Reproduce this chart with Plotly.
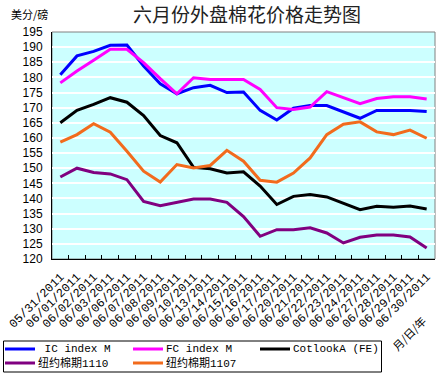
import plotly.graph_objects as go

dates = ["05/31/2011", "06/01/2011", "06/02/2011", "06/03/2011", "06/06/2011",
         "06/07/2011", "06/08/2011", "06/09/2011", "06/10/2011", "06/13/2011",
         "06/14/2011", "06/15/2011", "06/16/2011", "06/17/2011", "06/20/2011",
         "06/21/2011", "06/22/2011", "06/23/2011", "06/24/2011", "06/27/2011",
         "06/28/2011", "06/29/2011", "06/30/2011"]

ic_index_m = [180.9, 187.1, 188.6, 190.6, 190.7, 183.8, 177.9, 174.6, 176.6, 177.4,
              175.0, 175.2, 169.1, 165.9, 169.8, 170.7, 170.7, 168.5, 166.5, 169.1,
              169.1, 169.1, 168.7]
fc_index_m = [178.2, 182.1, 185.7, 189.3, 189.3, 184.9, 179.6, 174.6, 179.9, 179.3,
              179.3, 179.3, 176.0, 170.0, 169.4, 170.2, 175.3, 173.3, 171.3, 173.0,
              173.6, 173.6, 172.9]
cotlook_a = [165.0, 169.1, 171.1, 173.3, 171.8, 167.4, 160.8, 158.4, 150.3, 149.8,
             148.4, 148.8, 144.1, 138.0, 140.7, 141.3, 140.5, 138.5, 136.3, 137.4,
             137.1, 137.5, 136.5]
nybot_1110 = [147.1, 150.0, 148.6, 148.1, 146.2, 139.0, 137.6, 138.7, 139.8, 139.8,
              138.7, 134.0, 127.5, 129.7, 129.7, 130.3, 128.6, 125.3, 127.2, 127.9,
              127.9, 127.3, 123.6]
nybot_1107 = [158.6, 161.1, 164.7, 161.9, 155.6, 149.0, 145.4, 151.2, 150.1, 150.9,
              155.9, 152.3, 146.0, 145.4, 148.4, 153.4, 161.1, 164.5, 165.3, 162.0,
              161.1, 162.6, 159.9]

y_ticks = [120, 125, 130, 135, 140, 145, 150, 155, 160, 165, 170, 175, 180, 185, 190, 195]

series_names = ["IC index M", "FC index M", "CotlookA (FE)", "纽约棉期1110", "纽约棉期1107"]
series_values = [ic_index_m, fc_index_m, cotlook_a, nybot_1110, nybot_1107]
series_colors = ["#0000FF", "#FF00FF", "#000000", "#800080", "#F26B1D"]

W, H = 441, 375
L, R, T, B = 52, 6, 32, 116
PW, PH = W - L - R, H - T - B


def px(x):
    return (x - L) / PW


def py(y):
    return (H - B - y) / PH


fig = go.Figure()
for name, vals, col in zip(series_names, series_values, series_colors):
    fig.add_trace(go.Scatter(x=dates, y=vals, name=name, mode="lines",
                             line=dict(color=col, width=3)))

# Excel-style legend box (3 columns, 2 rows)
legend_slots = [(5, 349), (133, 349), (260, 349), (5, 363), (133, 363)]
shapes = [dict(type="rect", xref="paper", yref="paper", x0=0, x1=1, y0=0, y1=1,
               line=dict(color="#808080", width=1), layer="below"),
          dict(type="rect", xref="paper", yref="paper", x0=px(3.5), x1=px(381.5),
               y0=py(341), y1=py(372), line=dict(color="black", width=1),
               fillcolor="white")]
annotations = [
    dict(text="美分/磅", xref="paper", yref="paper", x=px(9), y=py(14),
         xanchor="left", yanchor="middle", showarrow=False,
         font=dict(family="Noto Sans CJK SC", size=11)),
    dict(text="月/日/年", xref="paper", yref="paper", x=px(409), y=py(333),
         xanchor="center", yanchor="middle", showarrow=False, textangle=-45,
         font=dict(family="Noto Sans CJK SC", size=11)),
]
for (lx, ly), name, col in zip(legend_slots, series_names, series_colors):
    shapes.append(dict(type="line", xref="paper", yref="paper", x0=px(lx), x1=px(lx + 30),
                       y0=py(ly), y1=py(ly), line=dict(color=col, width=3)))
    label = (" " + name) if name == "IC index M" else name
    annotations.append(dict(text=label, xref="paper", yref="paper", x=px(lx + 30.5), y=py(ly),
                            xanchor="left", yanchor="middle", showarrow=False,
                            font=dict(family="Liberation Mono, Noto Sans CJK SC", size=11)))

fig.update_layout(
    width=W, height=H,
    margin=dict(l=L, r=R, t=T, b=B, autoexpand=False),
    paper_bgcolor="white",
    plot_bgcolor="#CCFFFF",
    font=dict(family="Liberation Sans, Noto Sans CJK SC", size=11, color="black"),
    title=dict(text="六月份外盘棉花价格走势图", x=0.56, xref="container", xanchor="center",
               y=1 - 15 / 375, yref="container", yanchor="middle",
               font=dict(family="Noto Sans CJK SC", size=19, color="#222222")),
    showlegend=False,
    xaxis=dict(type="category", tickangle=-45, ticks="inside", ticklen=4,
               tickcolor="black", tickson="boundaries", showline=True,
               linecolor="black", linewidth=1, showgrid=False, automargin=False,
               ticklabelstandoff=5,
               tickfont=dict(family="Liberation Mono, DejaVu Sans Mono", size=12),
               range=[-0.5, len(dates) - 0.5]),
    yaxis=dict(range=[120, 195], tickvals=y_ticks, showline=True, linecolor="black",
               linewidth=1, showgrid=True, gridcolor="white", gridwidth=2,
               ticks="", ticklabelstandoff=6, zeroline=False, automargin=False,
               tickfont=dict(family="Liberation Sans", size=12)),
    shapes=shapes,
    annotations=annotations,
)

fig.write_html("out.html", config={"displayModeBar": False},
               post_script="document.body.style.margin='0';document.body.style.overflow='hidden';")
